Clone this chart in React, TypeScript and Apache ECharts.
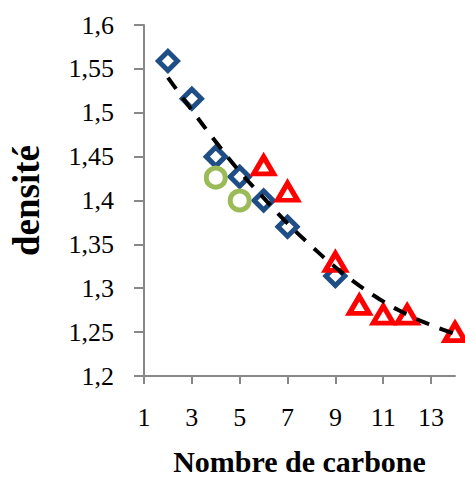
import React, { useEffect, useRef } from "react";
import * as echarts from "echarts";

const blueX = [2, 3, 4, 5, 6, 7, 9];
const blueY = [1.559, 1.516, 1.45, 1.427, 1.4, 1.37, 1.314];
const greenX = [4, 5];
const greenY = [1.426, 1.4];
const redX = [6, 7, 9, 10, 11, 12, 14];
const redY = [1.44, 1.41, 1.33, 1.281, 1.27, 1.27, 1.25];
const trendX = [2, 3, 4, 5, 6, 7, 8, 9, 10, 11, 12, 13, 14];
const trendY = [1.54, 1.503, 1.467, 1.433, 1.403, 1.374, 1.348, 1.324, 1.303, 1.285, 1.27, 1.258, 1.248];
const xTickValues = [1, 3, 5, 7, 9, 11, 13];

const pair = (xs: number[], ys: number[]) => xs.map((x, i) => [x, ys[i]]);

export default function App() {
  const ref = useRef<HTMLDivElement>(null);
  useEffect(() => {
    document.body.style.margin = "0";
    const chart = echarts.init(ref.current!, null, { renderer: "svg" });
    const font = "Liberation Serif";
    const axisColor = "#888888";
    chart.setOption({
      animation: false,
      backgroundColor: "#ffffff",
      textStyle: { fontFamily: font },
      grid: { left: 143, right: 10, top: 25, bottom: 110, containLabel: false },
      xAxis: {
        type: "value",
        min: 1,
        max: 14,
        name: "Nombre de carbone",
        nameLocation: "middle",
        nameGap: 70,
        nameTextStyle: { fontFamily: font, fontSize: 30, fontWeight: "bold", color: "#000" },
        axisLine: { show: true, onZero: false, lineStyle: { color: axisColor, width: 2 } },
        axisTick: { show: true, length: 8, customValues: xTickValues, lineStyle: { color: axisColor, width: 2 } },
        axisLabel: {
          customValues: xTickValues,
          margin: 28,
          fontFamily: font,
          fontSize: 26,
          color: "#000",
          formatter: (v: number) => String(v),
        },
        splitLine: { show: false },
      },
      yAxis: {
        type: "value",
        min: 1.2,
        max: 1.6,
        interval: 0.05,
        name: "densité",
        nameLocation: "middle",
        nameRotate: 90,
        nameGap: 99,
        nameTextStyle: { fontFamily: font, fontSize: 37, fontWeight: "bold", color: "#000" },
        axisLine: { show: true, lineStyle: { color: axisColor, width: 2 } },
        axisTick: { show: true, length: 10, lineStyle: { color: axisColor, width: 2 } },
        axisLabel: {
          margin: 30,
          fontFamily: font,
          fontSize: 26,
          color: "#000",
          formatter: (v: number) => String(+v.toFixed(2)).replace(".", ","),
        },
        splitLine: { show: false },
      },
      series: [
        {
          type: "scatter",
          data: pair(blueX, blueY),
          symbol: "diamond",
          symbolSize: 19,
          itemStyle: { color: "#ffffff", borderColor: "#1F4E86", borderWidth: 5, opacity: 1 },
          z: 2,
        },
        {
          type: "scatter",
          data: pair(greenX, greenY),
          symbol: "circle",
          symbolSize: 19,
          itemStyle: { color: "#ffffff", borderColor: "#9BBB59", borderWidth: 5, opacity: 1 },
          z: 3,
        },
        {
          type: "scatter",
          data: pair(redX, redY),
          symbol: "triangle",
          symbolSize: [20, 17],
          itemStyle: { color: "#ffffff", borderColor: "#FF0000", borderWidth: 5, opacity: 1 },
          z: 4,
        },
        {
          type: "line",
          data: pair(trendX, trendY),
          smooth: true,
          showSymbol: false,
          symbol: "none",
          lineStyle: { color: "#000000", width: 4, type: [14, 11] },
          z: 5,
        },
      ],
    });
    return () => chart.dispose();
  }, []);
  return <div ref={ref} style={{ width: 465, height: 486 }} />;
}
